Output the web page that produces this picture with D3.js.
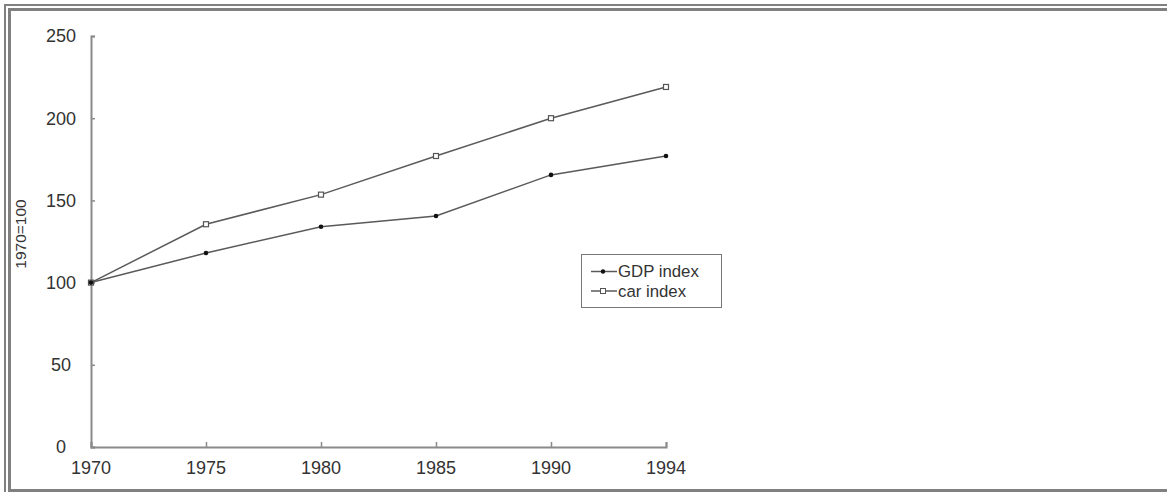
<!DOCTYPE html>
<html><head><meta charset="utf-8">
<script src="https://cdn.jsdelivr.net/npm/d3@7"></script>
<style>html,body{margin:0;padding:0;background:#fff;overflow:hidden}</style>
</head><body>
<svg id="chart" width="1167" height="492"></svg>
<script>
const years = ["1970","1975","1980","1985","1990","1994"];
const gdpIndex = [100, 118, 134, 140.5, 165.5, 177];
const carIndex = [100, 135.5, 153.5, 177, 200, 219];
const yTicks = [0, 50, 100, 150, 200, 250];
const seriesNames = ["GDP index", "car index"];

const svg = d3.select("#chart");
const frame = "#808080";
// double frame
svg.append("rect").attr("x",4).attr("y",4).attr("width",2).attr("height",488).attr("fill",frame);
svg.append("rect").attr("x",4).attr("y",4).attr("width",1163).attr("height",2).attr("fill",frame);
svg.append("rect").attr("x",8).attr("y",8).attr("width",3).attr("height",484).attr("fill",frame);
svg.append("rect").attr("x",8).attr("y",8).attr("width",1159).attr("height",3).attr("fill",frame);
svg.append("rect").attr("x",8).attr("y",489).attr("width",1159).attr("height",3).attr("fill",frame);

const x = d3.scalePoint().domain(years).range([91, 666]);
const y = d3.scaleLinear().domain([0, 250]).range([447, 36]);
const font = "'Liberation Sans', Arial, Helvetica, sans-serif";
const axisCol = "#8a8a8a";

// y axis
const yAxis = svg.append("g").attr("transform","translate(91,0)")
  .call(d3.axisRight(y).tickValues(yTicks).tickSize(4).tickFormat(""));
yAxis.select(".domain").attr("stroke",axisCol).attr("stroke-width",2);
yAxis.selectAll(".tick line").attr("stroke",axisCol).attr("stroke-width",1.5);
svg.append("g").selectAll("text").data(yTicks).join("text")
  .attr("x",61).attr("y",d=>y(d)).attr("dy","0.35em")
  .attr("text-anchor","middle").attr("font-family",font).attr("font-size",18)
  .attr("fill","#333").text(d=>d);

// x axis
const xAxis = svg.append("g").attr("transform","translate(0,447)")
  .call(d3.axisTop(x).tickSize(5).tickFormat(""));
xAxis.select(".domain").attr("stroke",axisCol).attr("stroke-width",2);
xAxis.selectAll(".tick line").attr("stroke",axisCol).attr("stroke-width",1.5);
svg.append("g").selectAll("text").data(years).join("text")
  .attr("x",d=>x(d)).attr("y",474)
  .attr("text-anchor","middle").attr("font-family",font).attr("font-size",18)
  .attr("fill","#333").text(d=>d);

// y title
svg.append("text").attr("transform","translate(26,234) rotate(-90)")
  .attr("text-anchor","middle").attr("font-family",font).attr("font-size",15.5)
  .attr("fill","#333").text("1970=100");

const line = d3.line().x((d,i)=>x(years[i])).y(d=>y(d));
const lineCol = "#5a5a5a";
svg.append("path").datum(carIndex).attr("d",line).attr("fill","none")
  .attr("stroke",lineCol).attr("stroke-width",1.5);
svg.append("path").datum(gdpIndex).attr("d",line).attr("fill","none")
  .attr("stroke",lineCol).attr("stroke-width",1.5);

svg.append("g").selectAll("rect").data(carIndex).join("rect")
  .attr("x",(d,i)=>x(years[i])-2.5).attr("y",d=>y(d)-2.5).attr("width",5).attr("height",5)
  .attr("fill","#fff").attr("stroke","#555").attr("stroke-width",1.2);
svg.append("g").selectAll("circle").data(gdpIndex).join("circle")
  .attr("cx",(d,i)=>x(years[i])).attr("cy",d=>y(d)).attr("r",2.3).attr("fill","#111");

// legend
const lg = svg.append("g");
lg.append("rect").attr("x",581.5).attr("y",254.5).attr("width",140).attr("height",53)
  .attr("fill","#fff").attr("stroke","#777").attr("stroke-width",1);
seriesNames.forEach((name,i)=>{
  const cy = 271.5 + i*19.5;
  lg.append("line").attr("x1",591).attr("x2",617).attr("y1",cy).attr("y2",cy)
    .attr("stroke",lineCol).attr("stroke-width",1.5);
  if(i===0){
    lg.append("circle").attr("cx",603).attr("cy",cy).attr("r",2.2).attr("fill","#111");
  } else {
    lg.append("rect").attr("x",600.5).attr("y",cy-2.5).attr("width",5).attr("height",5)
      .attr("fill","#fff").attr("stroke","#555").attr("stroke-width",1);
  }
  lg.append("text").attr("x",618).attr("y",cy).attr("dy","0.35em")
    .attr("font-family",font).attr("font-size",16.8).attr("fill","#333").text(name);
});
</script>
</body></html>
